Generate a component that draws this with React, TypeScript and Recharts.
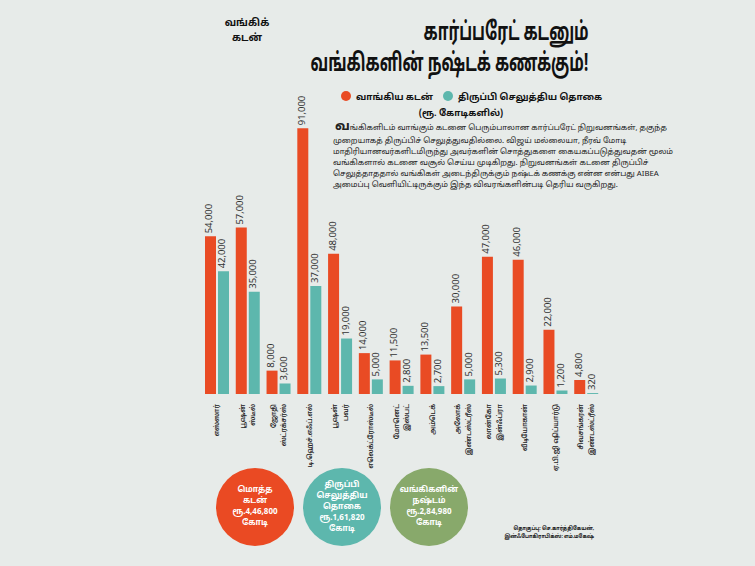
import { Bar, BarChart, LabelList, XAxis, YAxis } from 'recharts'

const categories = [
  'எஸ்ஸார்',
  'பூஷன்\nஸ்டீல்',
  'ஜோதி\nஸ்ட்ரக்சர்ஸ்',
  'டி.ஹெச்.எஃப்.எல்',
  'பூஷன்\nபவர்',
  'எலெக்ட்ரோஸ்டீல்',
  'மோனெட்\nஇஸ்பட்',
  'அம்டெக்',
  'அலோக்\nஇண்டஸ்ட்ரீஸ்',
  'லான்கோ\nஇன்ஃப்ரா',
  'வீடியோகான்',
  'ஏ.பி.ஜி ஷிப்யார்டு',
  'சிவசங்கரன்\nஇண்டஸ்ட்ரீஸ்',
]
const loans = [54000, 57000, 8000, 91000, 48000, 14000, 11500, 13500, 30000, 47000, 46000, 22000, 4800]
const repaid = [42000, 35000, 3600, 37000, 19000, 5000, 2800, 2700, 5000, 5300, 2900, 1200, 320]

const titleLines = ['கார்ப்பரேட் கடனும்', 'வங்கிகளின் நஷ்டக் கணக்கும்!']
const paragraph = [
  'ங்கிகளிடம் வாங்கும் கடனை பெரும்பாலான கார்ப்பரேட் நிறுவனங்கள், தகுந்த',
  'முறையாகத் திருப்பிச் செலுத்துவதில்லை. விஜய் மல்லையா, நீரவ் மோடி',
  'மாதிரியானவர்களிடமிருந்து அவர்களின் சொத்துகளை கையகப்படுத்துவதன் மூலம்',
  'வங்கிகளால்  கடனை வசூல் செய்ய முடிகிறது. நிறுவனங்கள் கடனை திருப்பிச்',
  'செலுத்தாததால் வங்கிகள் அடைந்திருக்கும் நஷ்டக் கணக்கு என்ன என்பது AIBEA',
  'அமைப்பு வெளியிட்டிருக்கும் இந்த விவரங்களின்படி தெரிய வருகிறது.',
]
const totals = [
  { lines: ['மொத்த', 'கடன்', 'ரூ.4,46,800', 'கோடி'], color: '#ea4a23' },
  { lines: ['திருப்பி', 'செலுத்திய', 'தொகை', 'ரூ.1,61,820', 'கோடி'], color: '#5db7ad' },
  { lines: ['வங்கிகளின்', 'நஷ்டம்', 'ரூ.2,84,980', 'கோடி'], color: '#88a96b' },
]

const data = categories.map((name, i) => ({ name, loan: loans[i], repaid: repaid[i] }))

const ORANGE = '#e94b24'
const TEAL = '#5db7ad'
const FONT = '"Noto Sans Tamil", "Noto Sans", "DejaVu Sans", sans-serif'
const fmt = new Intl.NumberFormat('en-US')

function ValueLabel(props: any) {
  const { x, y, width, value } = props
  const cx = x + width / 2
  const ty = y - 3
  return (
    <text
      x={cx}
      y={ty}
      transform={`rotate(-90 ${cx} ${ty})`}
      textAnchor="start"
      dominantBaseline="central"
      fontSize={9.5}
      fill="#333"
      fontFamily={FONT}
    >
      {fmt.format(value)}
    </text>
  )
}

function CategoryTick(props: any) {
  const { x, y, payload } = props
  const lines = String(payload.value).split('\n')
  return (
    <g transform={`translate(${x},${y})`}>
      {lines.map((l, i) => {
        const dx = (i - (lines.length - 1) / 2) * 10.5
        return (
          <text
            key={i}
            x={dx}
            y={0}
            transform={`rotate(-90 ${dx} 0)`}
            textAnchor="end"
            dominantBaseline="central"
            fontSize={6.6}
            fontWeight={600}
            fill="#222"
            fontFamily={FONT}
          >
            {l}
          </text>
        )
      })}
    </g>
  )
}

export default function App() {
  return (
    <div
      style={{
        position: 'absolute',
        left: 0,
        top: 0,
        width: 755,
        height: 566,
        background: '#e7ebe9',
        fontFamily: FONT,
        overflow: 'hidden',
      }}
    >
      <BarChart
        width={755}
        height={566}
        data={data}
        margin={{ left: 202, right: 153, top: 102, bottom: 92 }}
        barSize={11}
        barGap={2}
      >
        <YAxis hide domain={[0, 100000]} />
        <XAxis
          dataKey="name"
          height={80}
          interval={0}
          axisLine={false}
          tickLine={false}
          tickMargin={4}
          tick={<CategoryTick />}
        />
        <Bar dataKey="loan" fill={ORANGE} isAnimationActive={false}>
          <LabelList dataKey="loan" content={<ValueLabel />} />
        </Bar>
        <Bar dataKey="repaid" fill={TEAL} isAnimationActive={false}>
          <LabelList dataKey="repaid" content={<ValueLabel />} />
        </Bar>
      </BarChart>

      <div
        style={{
          position: 'absolute',
          left: 215,
          top: 16,
          width: 64,
          textAlign: 'center',
          fontSize: 10,
          fontWeight: 700,
          lineHeight: '15px',
          color: '#111',
        }}
      >
        வங்கிக்
        <br />
        கடன்
      </div>

      <div
        style={{
          position: 'absolute',
          right: 755 - 589,
          top: 18,
          textAlign: 'right',
          fontSize: 25,
          fontWeight: 700,
          lineHeight: '31px',
          color: '#111',
          whiteSpace: 'nowrap',
          transform: 'scaleX(0.62)',
          transformOrigin: 'right top',
        }}
      >
        {titleLines.map((t) => (
          <div key={t}>{t}</div>
        ))}
      </div>

      <div
        style={{
          position: 'absolute',
          left: 341,
          top: 90,
          width: 240,
          textAlign: 'center',
          fontSize: 9,
          fontWeight: 700,
          color: '#111',
          lineHeight: '16px',
          whiteSpace: 'nowrap',
        }}
      >
        <div>
          <span
            style={{
              display: 'inline-block',
              width: 10,
              height: 10,
              borderRadius: 5,
              background: ORANGE,
              verticalAlign: -1,
              marginRight: 5,
            }}
          />
          வாங்கிய கடன்
          <span
            style={{
              display: 'inline-block',
              width: 10,
              height: 10,
              borderRadius: 5,
              background: TEAL,
              verticalAlign: -1,
              marginLeft: 10,
              marginRight: 5,
            }}
          />
          திருப்பி செலுத்திய தொகை
        </div>
        <div>(ரூ. கோடிகளில்)</div>
      </div>

      <div
        style={{
          position: 'absolute',
          left: 333,
          top: 121,
          width: 258,
          fontSize: 7.8,
          color: '#222',
          whiteSpace: 'nowrap',
        }}
      >
        {paragraph.map((p, i) => (
          <div key={i} style={{ height: i === 0 ? 15 : 11, lineHeight: i === 0 ? '15px' : '11px' }}>
            {i === 0 && (
              <span style={{ fontSize: 13, lineHeight: '13px', fontWeight: 700, marginLeft: 2 }}>வ</span>
            )}
            {p}
          </div>
        ))}
      </div>

      {totals.map((c, i) => (
        <div
          key={i}
          style={{
            position: 'absolute',
            left: 216 + i * 87,
            top: 468,
            width: 78,
            height: 78,
            borderRadius: 39,
            background: c.color,
            color: '#fff',
            fontSize: 8,
            fontWeight: 700,
            lineHeight: '11px',
            display: 'flex',
            flexDirection: 'column',
            alignItems: 'center',
            justifyContent: 'center',
            textAlign: 'center',
          }}
        >
          {c.lines.map((l) => (
            <div key={l}>{l}</div>
          ))}
        </div>
      ))}

      <div
        style={{
          position: 'absolute',
          right: 755 - 594,
          top: 525,
          textAlign: 'right',
          fontSize: 6,
          fontWeight: 700,
          lineHeight: '8px',
          color: '#222',
          whiteSpace: 'nowrap',
          transform: 'scaleX(0.8)',
          transformOrigin: 'right top',
        }}
      >
        <div>தொகுப்பு: செ.கார்த்திகேயன்,</div>
        <div>இன்ஃபோகிராபிக்ஸ்: எம்.மகேஷ்</div>
      </div>
    </div>
  )
}
